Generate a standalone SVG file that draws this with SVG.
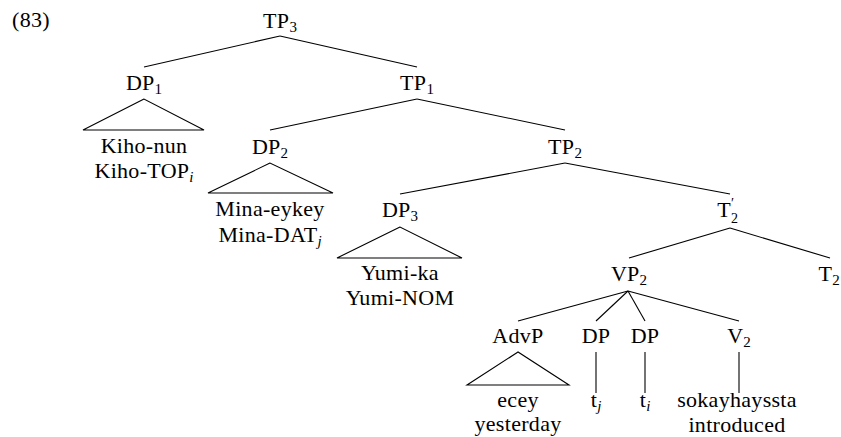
<svg xmlns="http://www.w3.org/2000/svg" width="841" height="437" viewBox="0 0 841 437">
<style>
text{font-family:"Liberation Serif","Times New Roman",serif;font-size:22px;letter-spacing:0.3px;fill:#000;text-anchor:middle}
.sub{font-size:15px;letter-spacing:0}
.it{font-style:italic}
.e{stroke:#000;stroke-width:1.1;fill:none}
</style>
<rect width="841" height="437" fill="#fff"/>
<g id="connectors">
<line class="e" x1="280" y1="36" x2="144" y2="67"/>
<line class="e" x1="280" y1="36" x2="417" y2="67"/>
<line class="e" x1="417" y1="99" x2="270" y2="130"/>
<line class="e" x1="417" y1="99" x2="565" y2="130"/>
<line class="e" x1="565" y1="163" x2="400" y2="194"/>
<line class="e" x1="565" y1="163" x2="730" y2="194"/>
<line class="e" x1="730" y1="228" x2="629" y2="258"/>
<line class="e" x1="730" y1="228" x2="830" y2="258"/>
<line class="e" x1="628" y1="291" x2="518" y2="321"/>
<line class="e" x1="628" y1="291" x2="596" y2="321"/>
<line class="e" x1="628" y1="291" x2="645" y2="321"/>
<line class="e" x1="628" y1="291" x2="739" y2="321"/>
<line class="e" x1="596" y1="352" x2="596" y2="393"/>
<line class="e" x1="645" y1="352" x2="645" y2="393"/>
<line class="e" x1="739" y1="352" x2="739" y2="393"/>
<polygon class="e" points="144,99 83,130 204,130"/>
<polygon class="e" points="270,163 208,193 333,193"/>
<polygon class="e" points="400,227 337,258 462,258"/>
<polygon class="e" points="518,352 467,385 569,385"/>
</g>
<g id="ex"><text x="12" y="27" style="text-anchor:start">(83)</text></g>
<g id="TP3"><text x="280" y="28">TP<tspan class="sub" dy="4">3</tspan></text></g>
<g id="DP1"><text x="144" y="90">DP<tspan class="sub" dy="4">1</tspan></text></g>
<g id="TP1"><text x="417" y="90">TP<tspan class="sub" dy="4">1</tspan></text></g>
<g id="DP2"><text x="270" y="154">DP<tspan class="sub" dy="4">2</tspan></text></g>
<g id="TP2"><text x="565" y="154">TP<tspan class="sub" dy="4">2</tspan></text></g>
<g id="DP3"><text x="400" y="217">DP<tspan class="sub" dy="4">3</tspan></text></g>
<g id="Tbar2"><text x="731" y="217" style="text-anchor:end">T</text><text x="731" y="208" style="text-anchor:start;font-size:14px">′</text><text x="731" y="223" style="text-anchor:start;font-size:14px">2</text></g>
<g id="VP2"><text x="629" y="281">VP<tspan class="sub" dy="4">2</tspan></text></g>
<g id="T2"><text x="829" y="281">T<tspan class="sub" dy="4">2</tspan></text></g>
<g id="AdvP"><text x="518" y="343">AdvP</text></g>
<g id="DPj"><text x="596" y="343">DP</text></g>
<g id="DPi"><text x="645" y="343">DP</text></g>
<g id="V2"><text x="739" y="343">V<tspan class="sub" dy="4">2</tspan></text></g>
<g id="leaf-kiho"><text x="144" y="153">Kiho-nun</text><text x="144" y="178">Kiho-TOP<tspan class="sub it" dy="4">i</tspan></text></g>
<g id="leaf-mina"><text x="270" y="216">Mina-eykey</text><text x="270" y="242">Mina-DAT<tspan class="sub it" dy="4">j</tspan></text></g>
<g id="leaf-yumi"><text x="400" y="280">Yumi-ka</text><text x="400" y="305">Yumi-NOM</text></g>
<g id="leaf-ecey"><text x="518" y="407">ecey</text><text x="518" y="431">yesterday</text></g>
<g id="leaf-tj"><text x="596" y="407">t<tspan class="sub it" dy="4">j</tspan></text></g>
<g id="leaf-ti"><text x="645" y="407">t<tspan class="sub it" dy="4">i</tspan></text></g>
<g id="leaf-v"><text x="737" y="407">sokayhayssta</text><text x="737" y="432">introduced</text></g>
</svg>
